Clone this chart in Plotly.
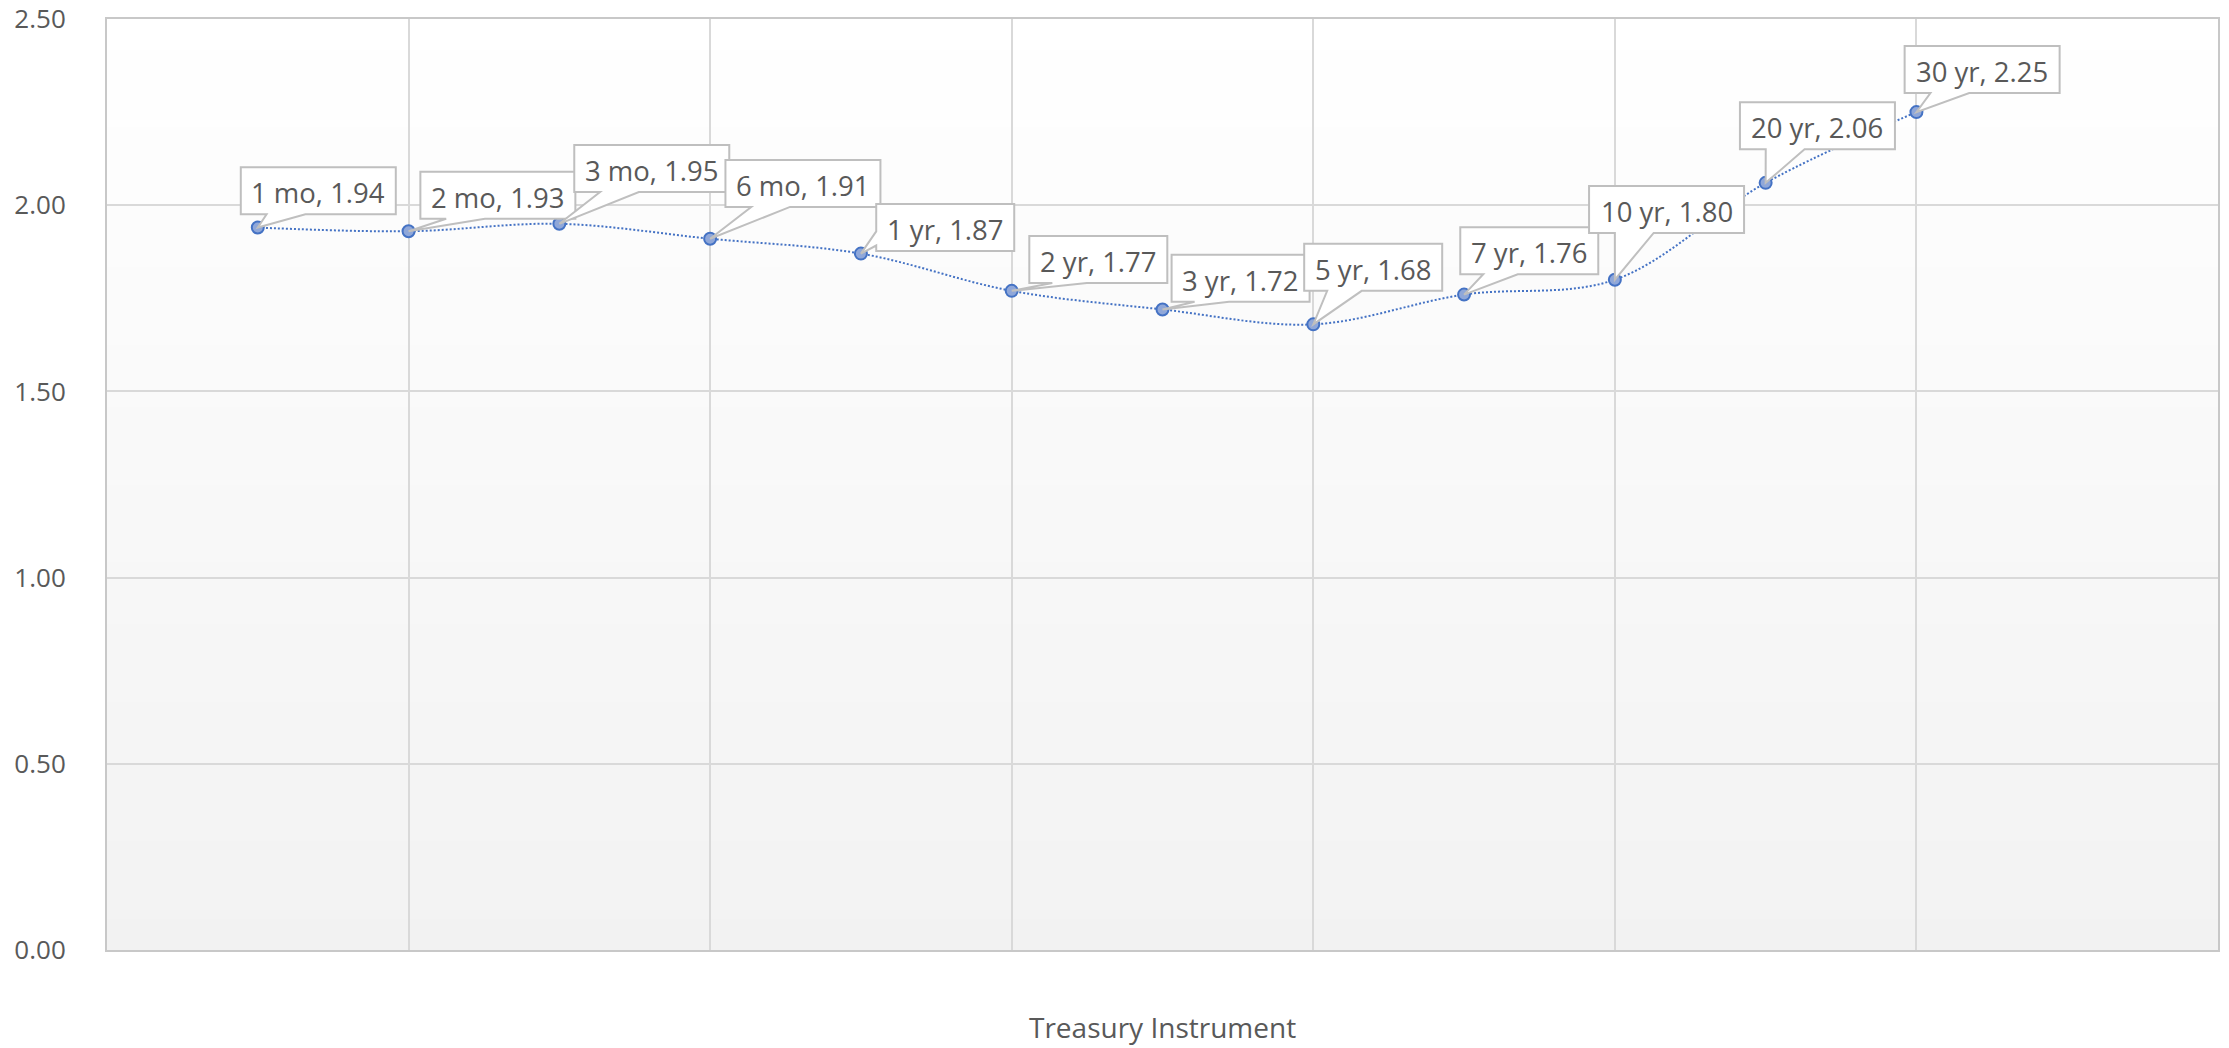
import plotly.graph_objects as go

# Treasury yield curve: maturity buckets and their yields (%)
maturities = ["1 mo", "2 mo", "3 mo", "6 mo", "1 yr", "2 yr",
              "3 yr", "5 yr", "7 yr", "10 yr", "20 yr", "30 yr"]
yields = [1.94, 1.93, 1.95, 1.91, 1.87, 1.77, 1.72, 1.68, 1.76, 1.80, 2.06, 2.25]
slots = list(range(1, len(maturities) + 1))   # ordinal position of each maturity
y_ticks = [0.0, 0.5, 1.0, 1.5, 2.0, 2.5]
x_title = "Treasury Instrument"

# Callout styling: box centre offset from its point (px, y up), box width, wedge side
callout_dx = [60.5, 89.3, 92.4, 92.8, 84.3, 86.6, 78.1, 59.9, 65.2, 51.7, 51.8, 65.7]
callout_dy = [36.7, 36.0, 55.3, 55.3, 26.0, 31.3, 31.3, 57.0, 43.8, 70.3, 57.0, 42.5]
callout_w = [155, 155, 155, 155, 138, 138, 138, 138, 138, 155, 155, 155]
callout_side = ["bottom"] * 4 + ["left"] + ["bottom"] * 7
CALLOUT_H = 47

FONT = "Open Sans"
TEXT = "#595959"
GRID = "#d9d9d9"
BLUE = "#4472C4"


def callout_path(dx, dy, w, h, side):
    """Rectangle plus pointer wedge, in pixels relative to the data point (y up)."""
    left, right = dx - w / 2, dx + w / 2
    bottom, top = dy - h / 2, dy + h / 2
    if side == "bottom":
        b1, b2 = left + w / 6, left + 5 * w / 12
        pts = [(left, top), (right, top), (right, bottom), (b2, bottom),
               (0, 0), (b1, bottom), (left, bottom)]
    else:
        u1, u2 = top - 0.58 * h, top - 0.88 * h
        pts = [(left, top), (right, top), (right, bottom), (left, bottom),
               (left, u2), (0, 0), (left, u1)]
    return "M " + " L ".join(f"{x:.1f},{y:.1f}" for x, y in pts) + " Z"


fig = go.Figure()

fig.add_trace(go.Scatter(
    x=slots, y=yields, mode="lines+markers",
    line=dict(color=BLUE, width=2, dash="2px,2px", shape="spline", smoothing=1.0),
    marker=dict(size=12, color="#8FA7D9", line=dict(color=BLUE, width=2)),
    hoverinfo="skip", showlegend=False,
))

shapes = []
# vertical white-to-grey gradient behind the plot area
n_bands = 60
for i in range(n_bands):
    t = (i + 0.5) / n_bands           # 0 at bottom, 1 at top
    g = round(242 + (255 - 242) * t)
    shapes.append(dict(
        type="rect", xref="x domain", yref="y domain",
        x0=0, x1=1, y0=i / n_bands, y1=(i + 1) / n_bands + 0.002,
        fillcolor=f"rgb({g},{g},{g})", line=dict(width=0), layer="below",
    ))

annotations = []
for xs, val, name, dx, dy, w, side in zip(slots, yields, maturities,
                                          callout_dx, callout_dy, callout_w, callout_side):
    shapes.append(dict(
        type="path", xref="x", yref="y",
        xsizemode="pixel", ysizemode="pixel", xanchor=xs, yanchor=val,
        path=callout_path(dx, dy, w, CALLOUT_H, side),
        fillcolor="white", line=dict(color="#bfbfbf", width=2), layer="above",
    ))
    annotations.append(dict(
        x=xs, y=val, xref="x", yref="y", text=f"{name}, {val:.2f}",
        showarrow=False, xanchor="center", yanchor="middle",
        xshift=dx, yshift=dy - 2,
        font=dict(family=FONT, size=27.5, color=TEXT),
    ))

# x-axis title, centred under the plot area
annotations.append(dict(
    x=0.5, y=-(1047.5 - 950) / 931, xref="paper", yref="paper",
    text=x_title, showarrow=False, xanchor="center", yanchor="bottom",
    font=dict(family=FONT, size=28, color=TEXT),
))

fig.update_layout(
    width=2229, height=1048,
    margin=dict(l=107, r=11, t=19, b=98, autoexpand=False),
    paper_bgcolor="white", plot_bgcolor="white",
    font=dict(family=FONT, color=TEXT),
    shapes=shapes, annotations=annotations,
    xaxis=dict(
        range=[0, 14], tick0=0, dtick=2, showticklabels=False, ticks="",
        showgrid=True, gridcolor=GRID, gridwidth=2, zeroline=False,
        showline=True, linecolor="#c8c8c8", linewidth=2, mirror=True,
        automargin=False,
    ),
    yaxis=dict(
        range=[0, 2.5], tickvals=y_ticks, tickformat=".2f", ticks="",
        ticklabelstandoff=34, ticklabeloverflow="allow",
        tickfont=dict(family=FONT, size=26, color=TEXT),
        showgrid=True, gridcolor=GRID, gridwidth=2, zeroline=False,
        showline=True, linecolor="#c8c8c8", linewidth=2, mirror=True,
        automargin=False,
    ),
)

fig.write_html("out.html")
